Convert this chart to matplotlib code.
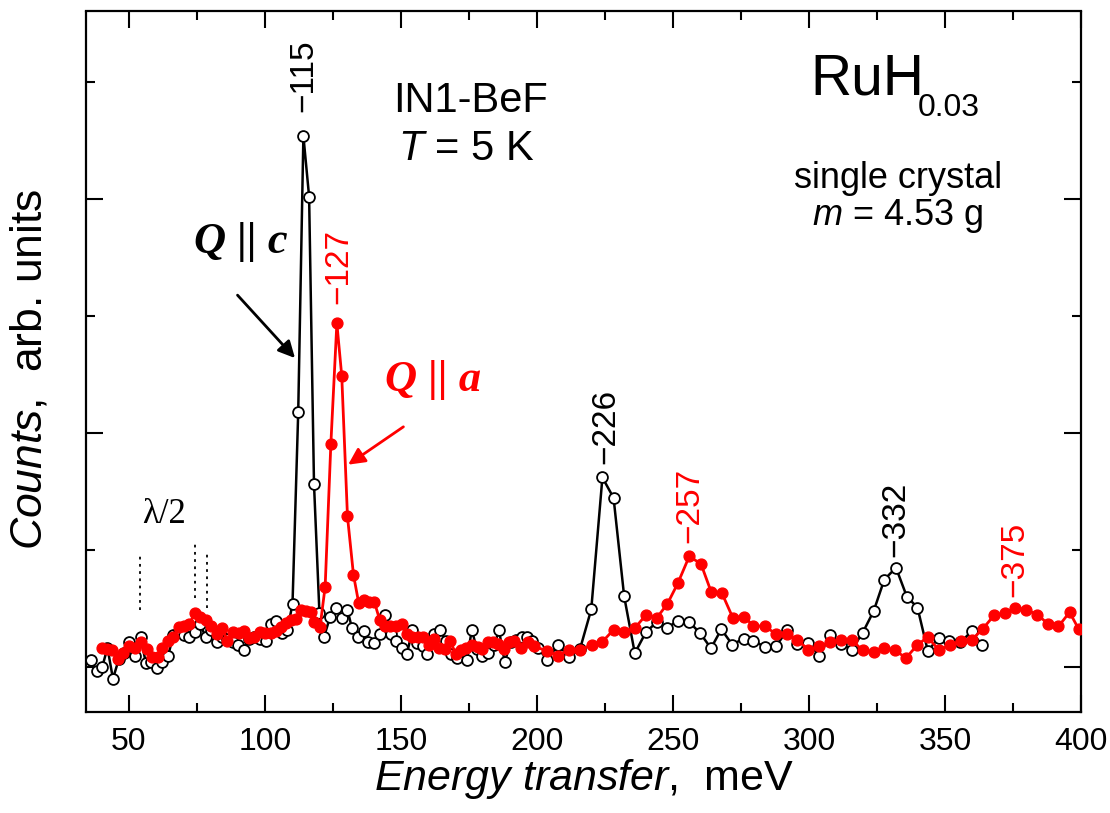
import matplotlib
matplotlib.use("Agg")
import matplotlib.pyplot as plt
from matplotlib.ticker import MultipleLocator

plt.rcParams['font.family'] = ['Liberation Sans', 'DejaVu Sans']
plt.rcParams['mathtext.fontset'] = 'custom'
plt.rcParams['mathtext.rm'] = 'Liberation Sans'
plt.rcParams['mathtext.it'] = 'Liberation Sans:italic'
plt.rcParams['mathtext.bf'] = 'Liberation Sans:bold'

# Q || c  (black, open circles)
e_c = [36.0, 38.2, 40.3, 42.2, 44.2, 46.4, 48.2, 50.1, 52.2, 54.4, 56.3, 58.1, 60.3, 62.4, 64.4,
       66.4, 68.5, 70.3, 72.2, 74.3, 76.2, 78.3, 80.1, 82.4, 84.4, 86.3, 88.5, 90.0, 92.2, 94.2,
       96.1, 98.2, 100.4, 102.2, 104.3, 106.5, 108.3, 110.2, 112.3, 114.2, 116.3, 118.1, 120.1,
       121.8, 124.0, 126.1, 128.3, 130.4, 132.0, 134.1, 136.3, 138.0, 140.2, 142.4, 144.2, 146.3,
       148.2, 150.3, 152.2, 154.3, 156.1, 158.0, 159.8, 162.2, 164.4, 166.5, 168.4, 170.5, 172.4,
       174.3, 176.1, 177.9, 180.0, 181.9, 184.3, 186.1, 188.2, 190.4, 192.3, 194.7, 196.5, 198.4,
       200.3, 203.9, 207.8, 211.9, 215.9, 220.0, 224.1, 228.2, 232.1, 236.0, 240.1, 244.1, 248.0,
       251.9, 256.0, 260.0, 264.0, 267.8, 271.8, 276.0, 279.6, 283.8, 287.9, 291.9, 295.8, 299.7,
       303.8, 307.8, 311.8, 315.7, 319.7, 323.8, 327.7, 332.0, 336.0, 339.9, 343.7, 347.7, 351.6,
       355.7, 359.9, 363.6]
i_c = [0.033, -0.013, 0.004, 0.084, -0.048, 0.037, 0.060, 0.108, 0.051, 0.132, 0.018, 0.023, -0.001,
       0.023, 0.047, 0.137, 0.150, 0.140, 0.132, 0.151, 0.184, 0.132, 0.158, 0.108, 0.130, 0.120,
       0.110, 0.098, 0.076, 0.120, 0.130, 0.120, 0.115, 0.187, 0.198, 0.147, 0.158, 0.272, 1.091,
       2.269, 2.010, 0.782, 0.232, 0.132, 0.215, 0.254, 0.211, 0.246, 0.170, 0.132, 0.154, 0.108,
       0.104, 0.141, 0.225, 0.144, 0.111, 0.084, 0.056, 0.161, 0.104, 0.090, 0.056, 0.141, 0.161,
       0.115, 0.058, 0.041, 0.070, 0.033, 0.161, 0.080, 0.047, 0.061, 0.094, 0.158, 0.023, 0.108,
       0.118, 0.130, 0.130, 0.113, 0.084, 0.033, 0.098, 0.044, 0.080, 0.248, 0.811, 0.724, 0.303,
       0.061, 0.151, 0.194, 0.170, 0.200, 0.194, 0.147, 0.082, 0.163, 0.098, 0.123, 0.115, 0.087,
       0.090, 0.158, 0.101, 0.104, 0.051, 0.137, 0.101, 0.076, 0.147, 0.241, 0.375, 0.426, 0.302,
       0.256, 0.070, 0.127, 0.115, 0.108, 0.155, 0.094]

# Q || a  (red, filled circles)
e_a = [40.0, 41.9, 44.0, 46.1, 48.0, 50.1, 52.2, 54.4, 56.6, 58.7, 60.8, 62.4, 64.5, 66.4, 68.5,
       70.3, 72.2, 74.3, 76.2, 78.3, 80.4, 82.4, 84.4, 86.3, 88.5, 90.6, 92.4, 94.2, 96.1, 98.2,
       100.1, 102.2, 104.0, 105.9, 107.7, 109.6, 111.4, 113.2, 115.1, 116.9, 118.1, 120.3, 122.2,
       124.3, 126.5, 128.3, 130.4, 132.6, 134.5, 136.4, 138.4, 140.3, 142.3, 144.1, 146.1, 148.2,
       150.3, 152.2, 154.3, 156.4, 158.3, 160.4, 162.2, 164.1, 166.2, 168.1, 170.2, 172.1, 173.9,
       176.0, 178.2, 180.0, 181.9, 184.0, 185.8, 187.8, 189.8, 191.7, 194.1, 196.6, 199.0, 203.9,
       207.8, 211.9, 215.9, 220.1, 224.1, 228.2, 232.1, 236.0, 240.1, 244.1, 248.0, 251.8, 256.0,
       260.3, 264.1, 268.0, 272.0, 276.0, 279.6, 283.8, 287.9, 291.9, 295.8, 299.7, 303.8, 307.8,
       311.8, 315.7, 319.7, 323.8, 327.7, 331.6, 335.7, 339.7, 343.6, 347.7, 351.8, 355.9, 359.9,
       363.9, 368.0, 371.9, 375.9, 379.9, 383.9, 387.8, 391.7, 395.8, 399.1]
i_a = [0.084, 0.080, 0.076, 0.037, 0.061, 0.090, 0.084, 0.108, 0.080, 0.044, 0.044, 0.084, 0.113,
       0.132, 0.172, 0.179, 0.184, 0.232, 0.215, 0.201, 0.179, 0.144, 0.168, 0.113, 0.151, 0.147,
       0.154, 0.127, 0.132, 0.151, 0.147, 0.147, 0.155, 0.172, 0.190, 0.201, 0.208, 0.246, 0.242,
       0.236, 0.194, 0.172, 0.345, 0.956, 1.469, 1.244, 0.645, 0.396, 0.277, 0.289, 0.279, 0.279,
       0.201, 0.175, 0.179, 0.179, 0.187, 0.144, 0.132, 0.130, 0.130, 0.094, 0.123, 0.084, 0.080,
       0.115, 0.058, 0.076, 0.084, 0.098, 0.087, 0.080, 0.108, 0.108, 0.101, 0.080, 0.108, 0.115,
       0.084, 0.108, 0.090, 0.070, 0.051, 0.076, 0.073, 0.098, 0.110, 0.161, 0.153, 0.168, 0.224,
       0.212, 0.272, 0.359, 0.474, 0.443, 0.322, 0.318, 0.213, 0.217, 0.179, 0.175, 0.144, 0.141,
       0.118, 0.076, 0.090, 0.108, 0.118, 0.118, 0.073, 0.066, 0.084, 0.073, 0.041, 0.094, 0.130,
       0.076, 0.094, 0.115, 0.118, 0.165, 0.222, 0.232, 0.255, 0.246, 0.226, 0.187, 0.175, 0.236,
       0.165]

# peak labels: energy, label position, colour
peak_e = [114.3, 127.1, 225.2, 256.4, 332.0, 375.6]
peak_y = [2.37, 1.55, 0.87, 0.53, 0.47, 0.30]
peak_txt = ['115', '127', '226', '257', '332', '375']
peak_col = ['black', 'red', 'black', 'red', 'black', 'red']

# lambda/2 contamination positions
lam_e = [54.2, 74.4, 78.6]
lam_top = [0.48, 0.54, 0.49]
lam_bot = [0.245, 0.295, 0.252]

fig = plt.figure(figsize=(11.1, 8.13), dpi=100)
ax = fig.add_axes([86 / 1110, 101 / 813, 995 / 1110, 700.5 / 813])

ax.plot(e_c, i_c, '-o', color='black', lw=1.8, ms=7.8, mfc='white', mec='black', mew=1.3,
        zorder=3)
ax.plot(e_a, i_a, '-o', color='red', lw=2.0, ms=7.8, mfc='red', mec='red', zorder=4)

ax.set_xlim(34.3, 400)
ax.set_ylim(-0.19, 2.80)
ax.xaxis.set_major_locator(MultipleLocator(50))
ax.xaxis.set_minor_locator(MultipleLocator(25))
ax.yaxis.set_major_locator(MultipleLocator(1))
ax.yaxis.set_minor_locator(MultipleLocator(0.5))
ax.tick_params(which='both', direction='in', top=True, right=True, width=1.5)
ax.tick_params(which='major', length=12)
ax.tick_params(which='minor', length=6.5)
ax.tick_params(axis='x', labelsize=23, pad=11)
ax.tick_params(axis='y', labelleft=False)
for s in ax.spines.values():
    s.set_linewidth(1.6)

ax.set_xlabel(r'$\mathit{Energy\ transfer}$,  meV', fontsize=31)
ax.xaxis.set_label_coords(0.501, -0.064)
ax.set_ylabel(r'$\mathit{Counts}$,  arb. units', fontsize=32)
ax.yaxis.set_label_coords(-0.036, 0.49)

for e, y, t, c in zip(peak_e, peak_y, peak_txt, peak_col):
    ax.text(e, y, '\u2212' + t, rotation=90, ha='center', va='bottom', fontsize=24, color=c)

ax.vlines(lam_e, lam_bot, lam_top, colors='black', linestyles=(0, (1.5, 2.5)), lw=1.3)
ax.text(62.9, 0.654, '\u03bb/2', fontsize=25, family='Liberation Serif', ha='center', va='center')

ax.text(175.7, 2.42, 'IN1-BeF', fontsize=30, ha='center', va='center')
ax.text(174.0, 2.215, r'$\mathit{T}$ = 5 K', fontsize=30, ha='center', va='center')

ax.text(0.7276, 0.881, 'RuH', fontsize=41, transform=ax.transAxes, ha='left', va='baseline')
ax.text(0.836, 0.851, '0.03', fontsize=23, transform=ax.transAxes, ha='left', va='baseline')
ax.text(0.816, 0.748, 'single crystal', fontsize=26, transform=ax.transAxes, ha='center',
        va='baseline')
ax.text(0.816, 0.695, r'$\mathit{m}$ = 4.53 g', fontsize=26, transform=ax.transAxes,
        ha='center', va='baseline')

ax.text(91.2, 1.816, 'Q || c', fontsize=32, family='Liberation Serif', style='italic',
        weight='bold', ha='center', va='center', color='black')
ax.annotate('', xy=(111.8, 1.312), xytext=(89.3, 1.598),
            arrowprops=dict(arrowstyle='-|>', color='black', lw=2, mutation_scale=25))
ax.text(161.8, 1.226, 'Q || a', fontsize=32, family='Liberation Serif', style='italic',
        weight='bold', ha='center', va='center', color='red')
ax.annotate('', xy=(129.8, 0.859), xytext=(151.8, 1.034),
            arrowprops=dict(arrowstyle='-|>', color='red', lw=2, mutation_scale=25))

fig.savefig('out.png', dpi=100)
